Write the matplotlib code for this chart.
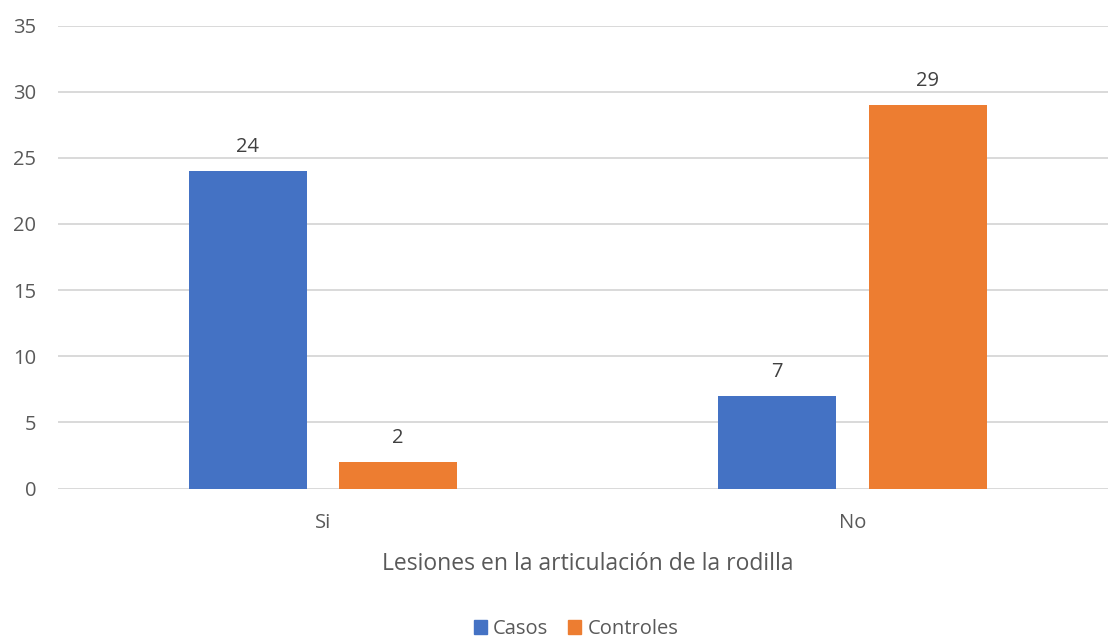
import matplotlib
matplotlib.use("Agg")
import matplotlib.pyplot as plt
import numpy as np
from matplotlib.patches import Patch

categories = ["Si", "No"]
casos = [24, 7]
controles = [2, 29]
series_names = ["Casos", "Controles"]
yticks = [0, 5, 10, 15, 20, 25, 30, 35]
xlabel = "Lesiones en la articulación de la rodilla"

plt.rcParams["font.family"] = ["Open Sans", "DejaVu Sans"]

BLUE = "#4472C4"
ORANGE = "#ED7D31"
GRID = "#D9D9D9"
TXT = "#595959"
LBL = "#404040"

W, H = 1108, 639
fig = plt.figure(figsize=(W / 100, H / 100), dpi=100)
left, right = 58.25 / W, 1117.25 / W
bottom, top = 1 - 488.5 / H, 1 - 25.5 / H
ax = fig.add_axes([left, bottom, right - left, top - bottom])

x = np.arange(len(categories))
bw = 0.223
off = 0.142
b1 = ax.bar(x - off, casos, bw, color=BLUE, zorder=3)
b2 = ax.bar(x + off, controles, bw, color=ORANGE, zorder=3)

for bars, vals in ((b1, casos), (b2, controles)):
    for r, v in zip(bars, vals):
        ax.annotate(str(v), (r.get_x() + r.get_width() / 2, v),
                    xytext=(0, 10), textcoords="offset points",
                    ha="center", va="bottom", fontsize=14.5, color=LBL)

ax.set_xlim(-0.5, 1.5)
ax.set_ylim(0, 35)
ax.set_yticks(yticks)
ax.set_xticks(x)
ax.set_xticklabels(categories)
ax.yaxis.grid(True, color=GRID, linewidth=1.4, zorder=0)
ax.set_axisbelow(True)
for s in ax.spines.values():
    s.set_visible(False)
ax.tick_params(axis="both", length=0, labelsize=14.5, colors=TXT)
ax.tick_params(axis="y", pad=16)
ax.tick_params(axis="x", pad=18)
ax.set_xlabel(xlabel, fontsize=16.5, color=TXT, labelpad=13)

handles = [Patch(color=BLUE, label=series_names[0]),
           Patch(color=ORANGE, label=series_names[1])]
fig.legend(handles=handles, loc="center", bbox_to_anchor=(576 / W, 1 - 629 / H),
           ncol=2, frameon=False, fontsize=14.5, labelcolor=TXT,
           handlelength=0.65, handleheight=0.65, handletextpad=0.3,
           columnspacing=1.0)

fig.savefig("out.png", dpi=100, facecolor="white")
